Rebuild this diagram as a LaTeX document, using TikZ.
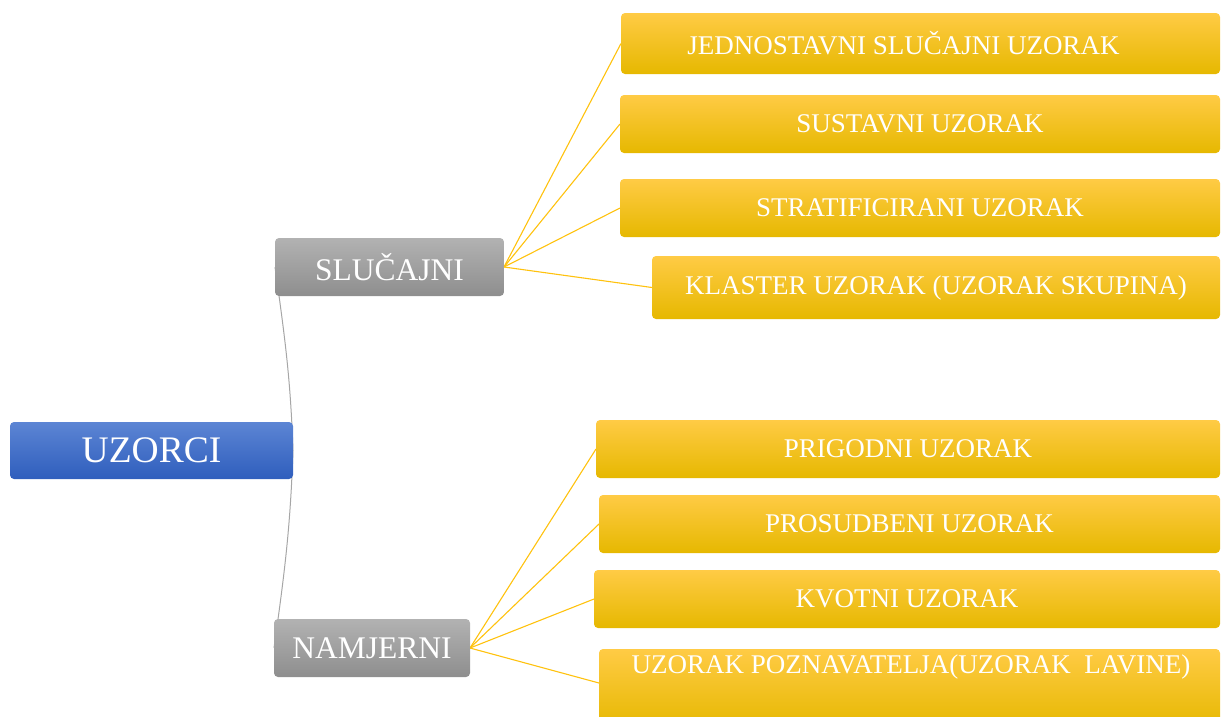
\documentclass[tikz,border=0pt]{standalone}
\usepackage{fontspec}
\setmainfont{Liberation Serif}
\definecolor{ytop}{HTML}{FFCB45}
\definecolor{ymid}{HTML}{FFC800}
\definecolor{ybot}{HTML}{E6B800}
\definecolor{btop}{HTML}{5C85D4}
\definecolor{bbot}{HTML}{2F5EBD}
\definecolor{gtop}{HTML}{B2B2B2}
\definecolor{gbot}{HTML}{8E8E8E}
\definecolor{yline}{HTML}{FFC20E}
\definecolor{gline}{HTML}{A6A6A6}
\tikzset{
  box/.style={rounded corners=4pt, inner sep=0pt, text=white, align=center},
  rootbox/.style={box, top color=btop, bottom color=bbot, font=\fontsize{37.5}{40}\selectfont},
  midbox/.style={box, top color=gtop, bottom color=gbot, font=\fontsize{31.5}{34}\selectfont},
  leafbox/.style={box, top color=ytop, middle color=ymid, bottom color=ybot, font=\fontsize{27}{29}\selectfont},
  yconn/.style={draw=yline, line width=1.1pt},
  gconn/.style={draw=gline, line width=1pt},
}
\begin{document}
\begin{tikzpicture}[x=1pt,y=-1pt]
\useasboundingbox (0,0) rectangle (1222,716);
\clip (0,0) rectangle (1222,716);
% connectors (behind boxes)
\coordinate (slw) at (275,267);
\coordinate (uze) at (293,450.5);
\coordinate (naw) at (274,648);
\coordinate (sle) at (504,267);
\coordinate (nae) at (470,648);
\coordinate (y1w) at (621,43.5);
\coordinate (y2w) at (620,124);
\coordinate (y3w) at (620,208);
\coordinate (y4w) at (652,287.5);
\coordinate (y5w) at (596,449);
\coordinate (y6w) at (599,524);
\coordinate (y7w) at (594,599);
\coordinate (y8w) at (599,683);
\draw[gconn] (slw) to[out=-82,in=92] (uze) to[out=-92,in=82] (naw);
\foreach \t in {y1w,y2w,y3w,y4w} \draw[yconn] (sle) -- (\t);
\foreach \t in {y5w,y6w,y7w,y8w} \draw[yconn] (nae) -- (\t);
% boxes
\node[rootbox, minimum width=283pt, minimum height=57pt] (uz) at (151.5,450.5) {UZORCI};
\node[midbox, minimum width=229pt, minimum height=58pt] (sl) at (389.5,267) {SLUČAJNI};
\node[midbox, minimum width=196pt, minimum height=58pt] (na) at (372,648) {NAMJERNI};
\node[leafbox, minimum width=599pt, minimum height=61pt] (y1) at (920.5,43.5) {JEDNOSTAVNI SLUČAJNI UZORAK\hspace*{34pt}};
\node[leafbox, minimum width=600pt, minimum height=58pt] (y2) at (920,124) {SUSTAVNI UZORAK};
\node[leafbox, minimum width=600pt, minimum height=58pt] (y3) at (920,208) {STRATIFICIRANI UZORAK};
\node[leafbox, minimum width=568pt, minimum height=63pt] (y4) at (936,287.5) {KLASTER UZORAK (UZORAK SKUPINA)};
\node[leafbox, minimum width=624pt, minimum height=58pt] (y5) at (908,449) {PRIGODNI UZORAK};
\node[leafbox, minimum width=621pt, minimum height=58pt] (y6) at (909.5,524) {PROSUDBENI UZORAK};
\node[leafbox, minimum width=626pt, minimum height=58pt] (y7) at (907,599) {KVOTNI UZORAK};
\node[leafbox, minimum width=621pt, minimum height=80pt] (y8) at (909.5,689) {};
\node[text=white, font=\fontsize{27}{29}\selectfont, inner sep=0pt] (y8t) at (911,667) {UZORAK POZNAVATELJA(UZORAK\ \ LAVINE)};
\end{tikzpicture}
\end{document}
